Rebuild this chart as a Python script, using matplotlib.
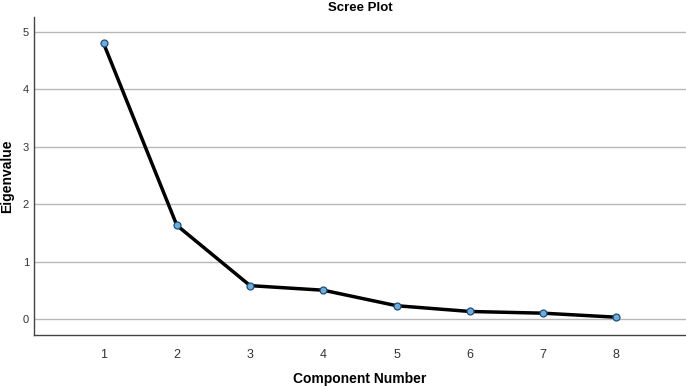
import matplotlib
matplotlib.use("Agg")
import matplotlib.pyplot as plt

plt.rcParams['font.family'] = ['Liberation Sans', 'DejaVu Sans']

components = [1, 2, 3, 4, 5, 6, 7, 8]
eigenvalues = [4.80, 1.63, 0.58, 0.50, 0.23, 0.13, 0.10, 0.03]
y_ticks = [0, 1, 2, 3, 4, 5]

fig = plt.figure(figsize=(6.86, 3.86), dpi=100)
ax = fig.add_axes([34 / 686, 1 - 335 / 386, 1 - 34 / 686, 318 / 386])

ax.plot(components, eigenvalues, color='black', lw=2.5, zorder=3,
        marker='o', markersize=5, markerfacecolor='#6aaee0',
        markeredgecolor='#1f4e79', markeredgewidth=0.9)

ax.set_xlim(0.05, 8.95)
ax.set_ylim(-0.28, 5.26)
ax.set_xticks(components)
ax.set_yticks(y_ticks)
ax.tick_params(axis='both', length=0, labelsize=8, colors='#333333')
ax.tick_params(axis='x', pad=10, labelsize=9)
ax.grid(axis='y', color='#b8b8b8', lw=1)
ax.set_axisbelow(True)

for s in ['top', 'right']:
    ax.spines[s].set_visible(False)
for s in ['left', 'bottom']:
    ax.spines[s].set_color('#444444')
    ax.spines[s].set_linewidth(1)

ax.set_xlabel('Component Number', fontsize=10, fontweight='bold', labelpad=8)
ax.set_ylabel('Eigenvalue', fontsize=10, fontweight='bold', labelpad=6)
fig.text(0.5 + 17 / 686, 1 - 8 / 386, 'Scree Plot', ha='center', va='center',
         fontsize=9.5, fontweight='bold')

fig.savefig('out.png', dpi=100)
